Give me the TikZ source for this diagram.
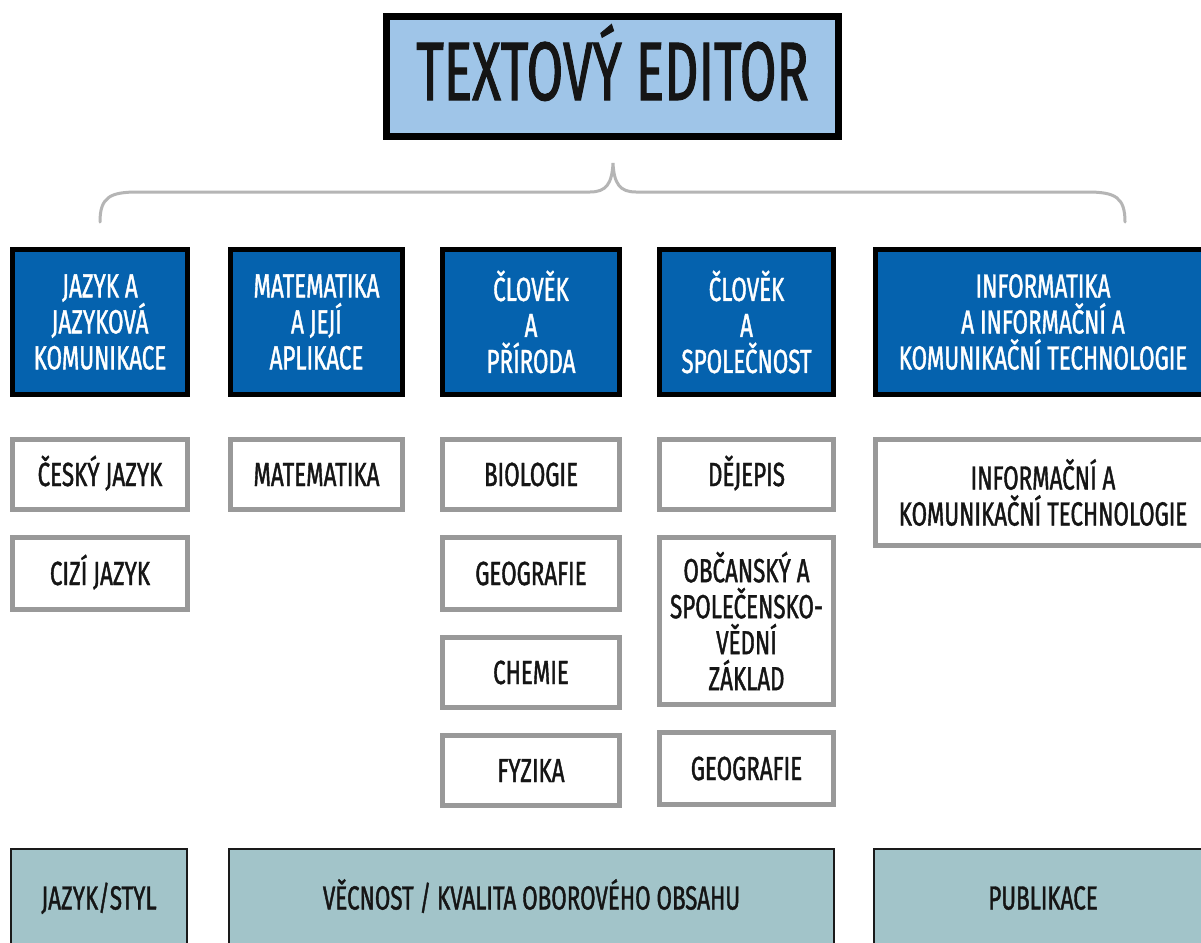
\documentclass[tikz,border=0pt]{standalone}
\usepackage{fontspec}
\setmainfont{Fira Sans}[FakeStretch=0.67, FakeBold=1.2]
\definecolor{titleF}{HTML}{9FC5E8}
\definecolor{blueF}{HTML}{0562AE}
\definecolor{grayB}{HTML}{999999}
\definecolor{barF}{HTML}{A2C4C9}
\definecolor{barB}{HTML}{1A1A1A}
\definecolor{braceC}{HTML}{B5B5B5}
\definecolor{txt}{HTML}{151515}
\newcommand\boxfont{\fontsize{33.4}{36}\selectfont}
\newcommand\titlefont{\fontsize{83}{90}\selectfont}
% place a box by its outer edges: style, name, x1, y1, x2, y2, line width, text
\newcommand\placebox[8]{%
  \node[#1, minimum width={#5-#3-#7}, minimum height={#6-#4-#7}] (#2) at ({(#3+#5)/2},{(#4+#6)/2}) {#8};}
\begin{document}
\begin{tikzpicture}[x=1pt,y=-1pt,
  box/.style={draw, inner sep=0pt, align=center, font=\boxfont},
  bluebox/.style={box, line width=5pt, draw=black, fill=blueF, text=white},
  graybox/.style={box, line width=5pt, draw=grayB, fill=white, text=txt},
  barbox/.style={box, line width=2pt, draw=barB, fill=barF, text=txt},
  titlebox/.style={draw=black, line width=7pt, fill=titleF, inner sep=0pt, font=\titlefont, text=txt, text height=57pt, text depth=0pt},
  oneline/.style={text height=23pt, text depth=0pt},
  bracestyle/.style={draw=braceC, line width=3pt, line cap=round}]
\useasboundingbox (0,0) rectangle (1201,942);
\clip (0,0) rectangle (1201,942);
\fill[white] (0,0) rectangle (1201,942);

% title
\placebox{titlebox}{title}{383}{13}{842}{140}{7}{\raisebox{5pt}{\addfontfeatures{FakeStretch=0.64}TEXTOVÝ EDITOR}}

% brace
\coordinate (bl) at (100,222);
\coordinate (tip) at (613,163);
\coordinate (br) at (1125,222);
\draw[bracestyle] (bl) .. controls (100,197) and (110,192) .. (138,192)
  -- (590,192) .. controls (606,192) and (612,184) .. (tip)
  .. controls (614,184) and (620,192) .. (636,192)
  -- (1087,192) .. controls (1115,192) and (1125,197) .. (br);

% headers
\placebox{bluebox}{h1}{10}{247}{190}{397}{5}{JAZYK A\\JAZYKOVÁ\\KOMUNIKACE}
\placebox{bluebox}{h2}{228}{247}{405}{397}{5}{MATEMATIKA\\A JEJÍ\\APLIKACE}
\placebox{bluebox}{h3}{440}{247}{622}{397}{5}{ČLOVĚK\\A\\PŘÍRODA}
\placebox{bluebox}{h4}{657}{247}{836}{397}{5}{ČLOVĚK\\A\\SPOLEČNOST}
\placebox{bluebox}{h5}{873}{247}{1213}{397}{5}{INFORMATIKA\\A INFORMAČNÍ A\\KOMUNIKAČNÍ TECHNOLOGIE}

% subjects
\placebox{graybox,oneline}{s11}{10}{437}{190}{512}{5}{ČESKÝ JAZYK}
\placebox{graybox,oneline}{s12}{10}{535}{190}{612}{5}{CIZÍ JAZYK}
\placebox{graybox,oneline}{s21}{228}{437}{405}{512}{5}{MATEMATIKA}
\placebox{graybox,oneline}{s31}{440}{437}{622}{512}{5}{BIOLOGIE}
\placebox{graybox,oneline}{s32}{440}{535}{622}{612}{5}{GEOGRAFIE}
\placebox{graybox,oneline}{s33}{440}{635}{622}{710}{5}{CHEMIE}
\placebox{graybox,oneline}{s34}{440}{733}{622}{808}{5}{FYZIKA}
\placebox{graybox,oneline}{s41}{657}{437}{836}{512}{5}{DĚJEPIS}
\placebox{graybox}{s42}{657}{535}{836}{707}{5}{OBČANSKÝ A\\SPOLEČENSKO-\\VĚDNÍ\\ZÁKLAD}
\placebox{graybox,oneline}{s43}{657}{730}{836}{807}{5}{GEOGRAFIE}
\placebox{graybox}{s51}{873}{437}{1213}{548}{5}{INFORMAČNÍ A\\KOMUNIKAČNÍ TECHNOLOGIE}

% bottom bars
\placebox{barbox,oneline}{b1}{10}{848}{188}{948}{2}{JAZYK/STYL}
\placebox{barbox,oneline}{b2}{228}{848}{835}{948}{2}{VĚCNOST / KVALITA OBOROVÉHO OBSAHU}
\placebox{barbox,oneline}{b3}{873}{848}{1213}{948}{2}{PUBLIKACE}
\end{tikzpicture}
\end{document}
